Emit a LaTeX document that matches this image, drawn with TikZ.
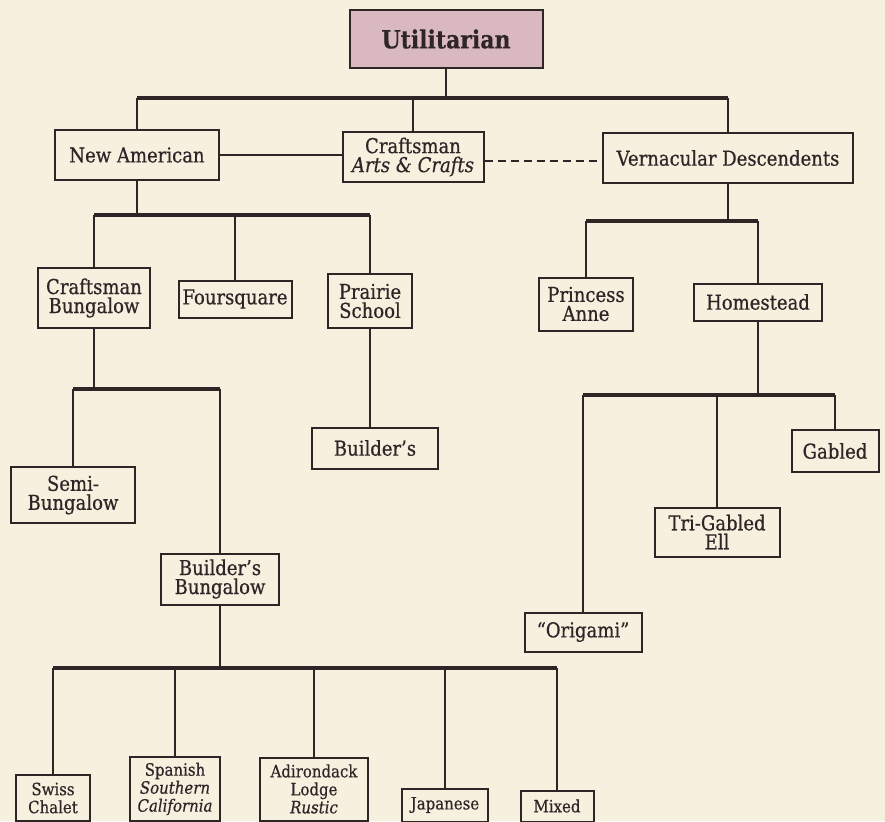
\documentclass[tikz,border=0pt]{standalone}
\usepackage{fontspec}
\setmainfont{DejaVu Serif}[FakeStretch=0.88,FakeBold=0.5]
\usepackage{xcolor}
\usetikzlibrary{positioning}
\definecolor{paper}{HTML}{F6F0DF}
\definecolor{ink}{HTML}{2F2527}
\definecolor{rose}{HTML}{D9B9BF}

\begin{document}
\begin{tikzpicture}[
  x=1pt,y=-1pt,
  box/.style={rectangle,draw=ink,line width=2pt,fill=paper,text=ink,inner sep=0pt,
              align=center,font=\fontsize{20.5}{19}\selectfont},
  sbox/.style={box,font=\fontsize{17}{18}\selectfont},
  tbox/.style={box,fill=rose,font=\fontsize{25}{26}\selectfont\bfseries},
  ln/.style={draw=ink,line width=2.2pt},
  bar/.style={draw=ink,line width=3.2pt},
  dln/.style={ln,dash pattern=on 8pt off 5pt}
]
\fill[paper] (0,0) rectangle (885,821);
\useasboundingbox (0,0) rectangle (885,821);
\node[tbox,minimum width=193,minimum height=58] (util) at (446,39) {Utilitarian};
\node[box,minimum width=164,minimum height=49] (na) at (137,155) {New American};
\node[box,minimum width=141,minimum height=49] (cac) at (413,157) {Craftsman\\\textit{Arts \& Crafts}};
\node[box,minimum width=250,minimum height=50] (vd) at (728,158) {Vernacular Descendents};
\node[box,minimum width=112,minimum height=60] (cb) at (94,298) {Craftsman\\Bungalow};
\node[box,minimum width=113,minimum height=37] (fs) at (235,299) {Foursquare};
\node[box,minimum width=84,minimum height=54] (ps) at (370,301) {Prairie\\School};
\node[box,minimum width=94,minimum height=53] (pa) at (586,304) {Princess\\Anne};
\node[box,minimum width=128,minimum height=37] (hs) at (758,302) {Homestead};
\node[box,minimum width=124,minimum height=56] (semi) at (73,495) {Semi-\\Bungalow};
\node[box,minimum width=118,minimum height=51] (bb) at (220,579) {Builder's\\Bungalow};
\node[box,minimum width=126,minimum height=41] (bld) at (375,448) {Builder's};
\node[box,minimum width=87,minimum height=42] (gab) at (835,451) {Gabled};
\node[box,minimum width=125,minimum height=49] (tge) at (717,532) {Tri-Gabled\\Ell};
\node[box,minimum width=117,minimum height=39] (ori) at (583,632) {``Origami''};
\node[sbox,minimum width=74,minimum height=46] (sc) at (53,798) {Swiss\\Chalet};
\node[sbox,minimum width=90,minimum height=64] (sp) at (175,789) {Spanish\\\textit{Southern}\\\textit{California}};
\node[sbox,minimum width=108,minimum height=63] (ad) at (314,789) {Adirondack\\Lodge\\\textit{Rustic}};
\node[sbox,minimum width=86,minimum height=33] (jp) at (445,805) {Japanese};
\node[sbox,minimum width=73,minimum height=31] (mx) at (557,806) {Mixed};
\coordinate (b1) at (0,98);
\coordinate (b2) at (0,215);
\coordinate (b3) at (0,221);
\coordinate (b4) at (0,389);
\coordinate (b5) at (0,395);
\coordinate (b6) at (0,668);
\draw[ln] (util.south)--(util.south |- b1);
\draw[bar] (na.north |- b1)--(vd.north |- b1);
\draw[ln] (na.north)--(na.north |- b1) (cac.north)--(cac.north |- b1) (vd.north)--(vd.north |- b1);
\draw[ln] (na.east)--(na.east -| cac.west);
\draw[dln] ([yshift=-4pt]cac.east)--([yshift=-4pt]cac.east -| vd.west);
\draw[ln] (na.south)--(na.south |- b2);
\draw[bar] (cb.north |- b2)--(ps.north |- b2);
\draw[ln] (cb.north)--(cb.north |- b2) (fs.north)--(fs.north |- b2) (ps.north)--(ps.north |- b2);
\draw[ln] (vd.south)--(vd.south |- b3);
\draw[bar] (pa.north |- b3)--(hs.north |- b3);
\draw[ln] (pa.north)--(pa.north |- b3) (hs.north)--(hs.north |- b3);
\draw[ln] (cb.south)--(cb.south |- b4);
\draw[bar] (semi.north |- b4)--(bb.north |- b4);
\draw[ln] (semi.north)--(semi.north |- b4) (bb.north)--(bb.north |- b4);
\draw[ln] (ps.south)--(ps.south |- bld.north);
\draw[ln] (hs.south)--(hs.south |- b5);
\draw[bar] (ori.north |- b5)--(gab.north |- b5);
\draw[ln] (ori.north)--(ori.north |- b5) (tge.north)--(tge.north |- b5) (gab.north)--(gab.north |- b5);
\draw[ln] (bb.south)--(bb.south |- b6);
\draw[bar] (sc.north |- b6)--(mx.north |- b6);
\draw[ln] (sc.north)--(sc.north |- b6) (sp.north)--(sp.north |- b6) (ad.north)--(ad.north |- b6)
  (jp.north)--(jp.north |- b6) (mx.north)--(mx.north |- b6);
\end{tikzpicture}
\end{document}
